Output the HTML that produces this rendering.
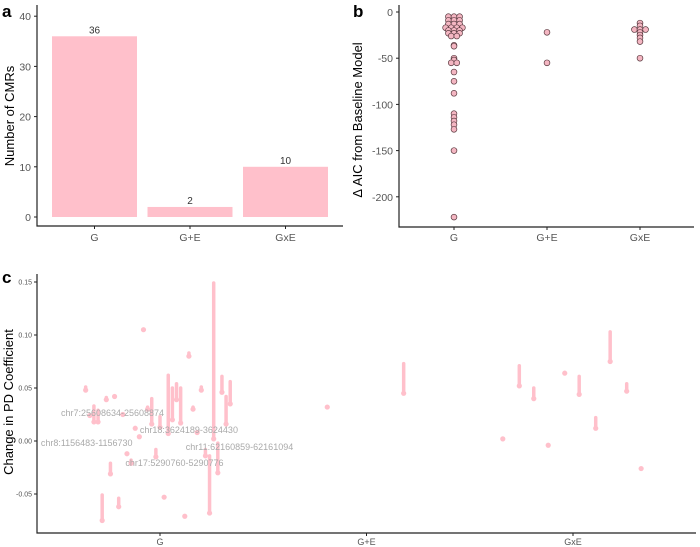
<!DOCTYPE html>
<html><head><meta charset="utf-8"><style>
html,body{margin:0;padding:0;background:#fff;}
svg{display:block;font-family:"Liberation Sans",sans-serif;}
</style></head><body>
<svg id="fig" width="700" height="547" viewBox="0 0 700 547">
<g id="pa"></g>
<g id="pb"></g>
<g id="pc"></g>
</svg>
<script>
const categories = ["G","G+E","GxE"];
const cmrCounts = [36,2,10];
const countTicks = [0,10,20,30,40];
const aicG = [-5,-5,-5,-9,-9,-9,-13,-13,-13,-17,-17,-17,-17,-20,-20,-20,-23,-23,-23,-26,-26,-36,-37,-50,-52,-55,-55,-65,-75,-88,-110,-114,-118,-122,-127,-150,-222];
const aicGE = [-22,-55];
const aicGxE = [-12,-15,-19,-19,-19,-22,-25,-28,-32,-50];
const aicTicks = [0,-50,-100,-150,-200];
const coefTicks = [0.15,0.10,0.05,0.00,-0.05];
const coefTickLabels = ["0.15","0.10","0.05","0.00","-0.05"];
const segCat = [0,0,0,0,0,0,0,0,0,0,0,0,0,0,0,0,0,0,0,0,0,0,0,0,0,0,0,0,0,0,0,0,0,0,0,0, 1,1, 2,2,2,2,2,2,2,2,2,2];
const segJitter = [-0.36,-0.34,-0.32,-0.30,-0.28,-0.26,-0.24,-0.22,-0.20,-0.18,-0.16,-0.14,-0.12,-0.10,-0.08,-0.06,-0.04,-0.02,0.00,0.02,0.04,0.06,0.08,0.10,0.12,0.14,0.16,0.18,0.20,0.22,0.24,0.26,0.28,0.30,0.32,0.34, -0.19,0.18, -0.34,-0.26,-0.19,-0.12,-0.04,0.03,0.11,0.18,0.26,0.33];
const segStart = [0.051,0.024,0.033,0.029,-0.051,0.041,-0.021,0.042,-0.054,0.025,-0.012,-0.018,0.012,0.004,0.105,0.032,0.040,-0.008,0.023,-0.053,0.062,0.050,0.054,0.050,-0.071,0.083,0.032,0.008,0.051,-0.008,-0.014,0.149,-0.002,0.061,0.042,0.056, 0.032,0.073, 0.002,0.071,0.050,-0.004,0.064,0.061,0.022,0.103,0.054,-0.026];
const segEnd = [0.048,0.024,0.018,0.018,-0.075,0.039,-0.031,0.042,-0.062,0.025,-0.012,-0.021,0.012,0.004,0.105,0.030,0.016,-0.015,0.013,-0.053,0.007,0.020,0.039,0.017,-0.071,0.080,0.030,0.008,0.048,-0.014,-0.068,0.002,-0.030,0.046,0.016,0.035, 0.032,0.045, 0.002,0.052,0.040,-0.004,0.064,0.044,0.012,0.075,0.047,-0.026];
const labelText = ["chr7:25608634-25608874","chr18:3624189-3624430","chr8:1156483-1156730","chr11:62160859-62161094","chr17:5290760-5290776"];
const labelCat = [0,0,0,0,0];
const labelJitter = [-0.23,0.14,-0.355,0.385,0.07];
const labelY = [0.0264,0.0104,-0.0019,-0.0057,-0.0208];

const NS="http://www.w3.org/2000/svg";
function mk(parent,tag,attrs,text){const e=document.createElementNS(NS,tag);for(const k in attrs)e.setAttribute(k,attrs[k]);if(text!==undefined)e.textContent=text;parent.appendChild(e);return e;}
const PINK="#ffc0cb", AX="#222", TK="#555";

(function(){
const g=document.getElementById('pa');
const y=v=>217-v*5.02;
const xc=i=>94.5+i*95.5;
let e=mk(g,'text',{x:2,y:17,'font-size':17,'font-weight':'bold'},'a');

cmrCounts.forEach((v,i)=>{
 const b=mk(g,'rect',{x:xc(i)-42.5,y:y(v),width:85,height:y(0)-y(v),fill:PINK});
 
 const t=mk(g,'text',{x:xc(i),y:y(v)-3,'font-size':10,'text-anchor':'middle',fill:'#333'},String(v));
 
 mk(g,'line',{x1:xc(i),x2:xc(i),y1:226,y2:229,stroke:AX});
 const l=mk(g,'text',{x:xc(i),y:241,'font-size':10.5,'text-anchor':'middle',fill:TK},categories[i]);
 
});
countTicks.forEach(v=>{
 mk(g,'line',{x1:34,x2:37,y1:y(v),y2:y(v),stroke:AX});
 const t=mk(g,'text',{x:31,y:y(v)+4,'font-size':10.5,'text-anchor':'end',fill:TK},String(v));
 
});
mk(g,'path',{d:'M37 5 V226 H343',fill:'none',stroke:AX,'stroke-width':1.2});
const yt=mk(g,'text',{x:0,y:0,'font-size':13,'text-anchor':'middle',transform:'translate(14,116) rotate(-90)'},'Number of CMRs');

})();

(function(){
const g=document.getElementById('pb');
const y=v=>12-v*0.924;
const xc=i=>454+i*93;
let e=mk(g,'text',{x:353,y:17,'font-size':17,'font-weight':'bold'},'b');

aicTicks.forEach(v=>{
 mk(g,'line',{x1:396,x2:399,y1:y(v),y2:y(v),stroke:AX});
 const t=mk(g,'text',{x:393,y:y(v)+4,'font-size':10.5,'text-anchor':'end',fill:TK},String(v));
 
});
categories.forEach((c,i)=>{
 mk(g,'line',{x1:xc(i),x2:xc(i),y1:227,y2:230,stroke:AX});
 const l=mk(g,'text',{x:xc(i),y:241,'font-size':10.5,'text-anchor':'middle',fill:TK},c);
 
});
mk(g,'path',{d:'M399 5 V227 H694',fill:'none',stroke:AX,'stroke-width':1.2});
const r=2.9;
[aicG,aicGE,aicGxE].forEach((arr,ci)=>{
 const counts={};
 arr.forEach(v=>{counts[v]=(counts[v]||0)+1;});
 const seen={};
 arr.forEach(v=>{
  const n=counts[v]; const k=(seen[v]=(seen[v]||0)+1)-1;
  const px=xc(ci)+(k-(n-1)/2)*5.6;
  const c=mk(g,'circle',{cx:px,cy:y(v),r:r,fill:'#f4b6c2',stroke:'#5a3a40','stroke-width':0.7});
  
 });
});
const yt=mk(g,'text',{x:0,y:0,'font-size':13,'text-anchor':'middle',transform:'translate(362,120) rotate(-90)'},'Δ AIC from Baseline Model');

})();

(function(){
const g=document.getElementById('pc');
const y=v=>441-v*1060;
const x=(c,j)=>160+(c+j)*206.5;
let e=mk(g,'text',{x:2,y:283,'font-size':17,'font-weight':'bold'},'c');

coefTicks.forEach((v,i)=>{
 mk(g,'line',{x1:34,x2:37,y1:y(v),y2:y(v),stroke:AX});
 const t=mk(g,'text',{x:32,y:y(v)+2.5,'font-size':7,'text-anchor':'end',fill:TK},coefTickLabels[i]);
 
});
categories.forEach((c,i)=>{
 mk(g,'line',{x1:x(i,0),x2:x(i,0),y1:533,y2:536,stroke:AX});
 const l=mk(g,'text',{x:x(i,0),y:545,'font-size':9,'text-anchor':'middle',fill:TK},c);
 
});
segStart.forEach((s,i)=>{
 const px=x(segCat[i],segJitter[i]);
 const ln=mk(g,'line',{x1:px,x2:px,y1:y(s),y2:y(segEnd[i]),stroke:PINK,'stroke-width':3.5,'stroke-linecap':'round'});
 
 const dot=mk(g,'circle',{cx:px,cy:y(segEnd[i]),r:2.6,fill:PINK});
 
});
labelText.forEach((t,i)=>{
 const l=mk(g,'text',{x:x(labelCat[i],labelJitter[i]),y:y(labelY[i])+3,'font-size':9,'text-anchor':'middle',fill:'#aaa'},t);
 
});
mk(g,'path',{d:'M37 274 V533 H696',fill:'none',stroke:AX,'stroke-width':1.2});
const yt=mk(g,'text',{x:0,y:0,'font-size':13,'text-anchor':'middle',transform:'translate(13,402) rotate(-90)'},'Change in PD Coefficient');

})();
</script>
</body></html>
